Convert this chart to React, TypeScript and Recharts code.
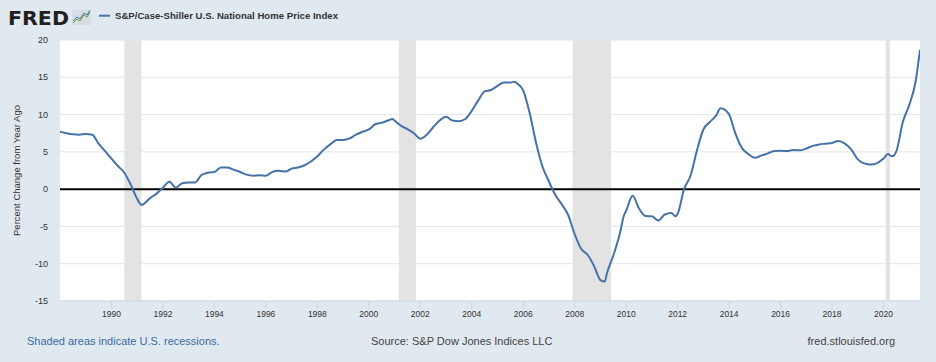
import { LineChart, Line, XAxis, YAxis, CartesianGrid, ReferenceArea, ReferenceLine } from 'recharts';

const months = [
  "1988-01", "1988-04", "1988-07", "1988-10",
  "1989-01", "1989-04", "1989-07", "1989-10",
  "1990-01", "1990-04", "1990-07", "1990-10",
  "1991-01", "1991-03", "1991-07", "1991-10",
  "1992-01", "1992-04", "1992-07", "1992-10",
  "1993-01", "1993-04", "1993-07", "1993-10",
  "1994-01", "1994-04", "1994-07", "1994-10",
  "1995-01", "1995-04", "1995-07", "1995-10",
  "1996-01", "1996-04", "1996-07", "1996-10",
  "1997-01", "1997-04", "1997-07", "1997-10",
  "1998-01", "1998-04", "1998-07", "1998-10",
  "1999-01", "1999-04", "1999-07", "1999-10",
  "2000-01", "2000-04", "2000-07", "2000-10", "2000-12",
  "2001-01", "2001-04", "2001-07", "2001-10",
  "2002-01", "2002-04", "2002-07", "2002-10",
  "2003-01", "2003-04", "2003-07", "2003-10",
  "2004-01", "2004-04", "2004-07", "2004-10",
  "2005-01", "2005-04", "2005-07", "2005-09", "2005-10",
  "2006-01", "2006-04", "2006-07", "2006-10",
  "2007-01", "2007-04", "2007-07", "2007-10",
  "2008-01", "2008-04", "2008-07", "2008-10",
  "2009-01", "2009-03", "2009-04", "2009-07", "2009-10", "2009-12",
  "2010-01", "2010-04", "2010-07", "2010-10",
  "2011-01", "2011-04", "2011-07", "2011-10", "2011-12",
  "2012-01", "2012-04", "2012-07", "2012-10",
  "2013-01", "2013-04", "2013-07", "2013-09", "2013-10",
  "2014-01", "2014-04", "2014-07", "2014-10",
  "2015-01", "2015-04", "2015-07", "2015-10",
  "2016-01", "2016-04", "2016-07", "2016-10",
  "2017-01", "2017-04", "2017-07", "2017-10",
  "2018-01", "2018-04", "2018-07", "2018-10",
  "2019-01", "2019-04", "2019-07", "2019-10",
  "2020-01", "2020-03", "2020-05", "2020-07", "2020-10",
  "2021-01", "2021-04", "2021-06",
];

const yoyChange = [
  7.7, 7.5, 7.35, 7.3,
  7.4, 7.3, 6.1, 5.1,
  4.1, 3.1, 2.2, 0.6,
  -1.3, -2.1, -1.2, -0.6,
  0.2, 1.0, 0.2, 0.8,
  0.9, 0.9, 1.9, 2.2,
  2.3, 2.9, 2.9, 2.6,
  2.3, 1.95, 1.8, 1.85,
  1.8, 2.3, 2.45, 2.35,
  2.75, 2.9, 3.2, 3.7,
  4.4, 5.3, 6.0, 6.6,
  6.6, 6.8, 7.3, 7.7,
  8.0, 8.7, 8.9, 9.2, 9.4,
  9.2, 8.5, 8.05, 7.5,
  6.75, 7.3, 8.3, 9.2,
  9.7, 9.2, 9.1, 9.4,
  10.5, 11.9, 13.1, 13.3,
  13.85, 14.3, 14.3, 14.4, 14.2,
  13.2, 10.2, 6.2, 3.0,
  1.0, -0.8, -2.05, -3.5,
  -6.05, -8.0, -8.8, -10.3,
  -12.2, -12.4, -11.3, -8.9, -6.0, -3.5,
  -2.9, -0.9, -2.6, -3.6,
  -3.65, -4.2, -3.4, -3.2, -3.65,
  -3.3, 0.0, 1.8, 5.2,
  8.0, 9.0, 9.9, 10.85, 10.8,
  10.0, 7.4, 5.5, 4.7,
  4.2, 4.5, 4.8, 5.1,
  5.15, 5.1, 5.25, 5.2,
  5.45, 5.8, 6.0, 6.1,
  6.2, 6.45, 6.1, 5.3,
  4.0, 3.45, 3.3, 3.5,
  4.1, 4.7, 4.4, 5.1, 9.0,
  11.3, 14.5, 18.7,
];

const recessionStarts = ["1990-07", "2001-03", "2007-12", "2020-02"];
const recessionEnds = ["1991-03", "2001-11", "2009-06", "2020-04"];

const yearTicks = [1990, 1992, 1994, 1996, 1998, 2000, 2002, 2004, 2006, 2008, 2010, 2012, 2014, 2016, 2018, 2020];
const valueTicks = [-15, -10, -5, 0, 5, 10, 15, 20];

const toYear = (m: string) => {
  const [y, mo] = m.split('-').map(Number);
  return y + (mo - 1) / 12;
};

const data = months.map((m, i) => ({ t: toYear(m), value: yoyChange[i] }));

const FONT = '"Liberation Sans", Arial, Helvetica, sans-serif';

export default function App() {
  return (
    <div style={{ position: 'absolute', left: 0, top: 0, width: 936, height: 362, background: '#e1e9f0', fontFamily: FONT }}>
      <LineChart width={936} height={362} data={data} margin={{ top: 40, right: 16, bottom: 41, left: 10 }}>
        <CartesianGrid horizontal vertical={false} stroke="#e6e6e6" fill="#ffffff" />
        {recessionStarts.map((s, i) => (
          <ReferenceArea key={s} x1={toYear(s)} x2={toYear(recessionEnds[i])} fill="#e3e3e3" fillOpacity={1} stroke="none" ifOverflow="hidden" />
        ))}
        <XAxis
          dataKey="t"
          type="number"
          domain={[1988, 2021.4167]}
          ticks={yearTicks}
          allowDataOverflow
          height={20}
          stroke="#ccd6eb"
          tickSize={8}
          tickMargin={2}
          tick={{ fill: '#333', fontSize: 8.5 }}
        />
        <YAxis
          type="number"
          domain={[-15, 20]}
          ticks={valueTicks}
          width={50}
          axisLine={false}
          tickLine={false}
          tickSize={6}
          tickMargin={6}
          tick={{ fill: '#333', fontSize: 9 }}
        />
        <ReferenceLine y={0} stroke="#000" strokeWidth={2} />
        <Line type="monotone" dataKey="value" stroke="#4572a7" strokeWidth={2} dot={false} isAnimationActive={false} />
      </LineChart>

      <svg width={936} height={362} style={{ position: 'absolute', left: 0, top: 0, pointerEvents: 'none' }}>
        {/* FRED logo */}
        <text x={8} y={24.5} fontSize={19} fontWeight={900} fontFamily='"DejaVu Sans", sans-serif' fill="#231f20" textLength={61} lengthAdjust="spacingAndGlyphs">FRED</text>
        <rect x={72} y={10} width={19} height={15} fill="#d6dde3" />
        <polyline points="73,23 77,19 80,21 84,15 87,17 90,12" fill="none" stroke="#6a9a3a" strokeWidth={1} />
        <polyline points="73,21 77,17 80,19 84,13 87,15 90,10" fill="none" stroke="#4572a7" strokeWidth={1} />

        {/* legend */}
        <line x1={99} x2={110} y1={15.7} y2={15.7} stroke="#4572a7" strokeWidth={2} />
        <text x={115} y={19.3} fontSize={9.6} fontWeight={700} fill="#333" fontFamily={FONT} textLength={223} lengthAdjust="spacingAndGlyphs">S&amp;P/Case-Shiller U.S. National Home Price Index</text>

        {/* y axis title */}
        <text x={0} y={0} transform="translate(19.5,170.5) rotate(-90)" textAnchor="middle" fontSize={9.5} fill="#333" fontFamily={FONT}>Percent Change from Year Ago</text>

        {/* footer */}
        <text x={27} y={345} fontSize={11} fill="#3a6aa0" fontFamily={FONT}>Shaded areas indicate U.S. recessions.</text>
        <text x={371} y={345} fontSize={11} fill="#444" fontFamily={FONT}>Source: S&amp;P Dow Jones Indices LLC</text>
        <text x={895} y={345} fontSize={11} fill="#444" textAnchor="end" fontFamily={FONT}>fred.stlouisfed.org</text>
      </svg>
    </div>
  );
}
